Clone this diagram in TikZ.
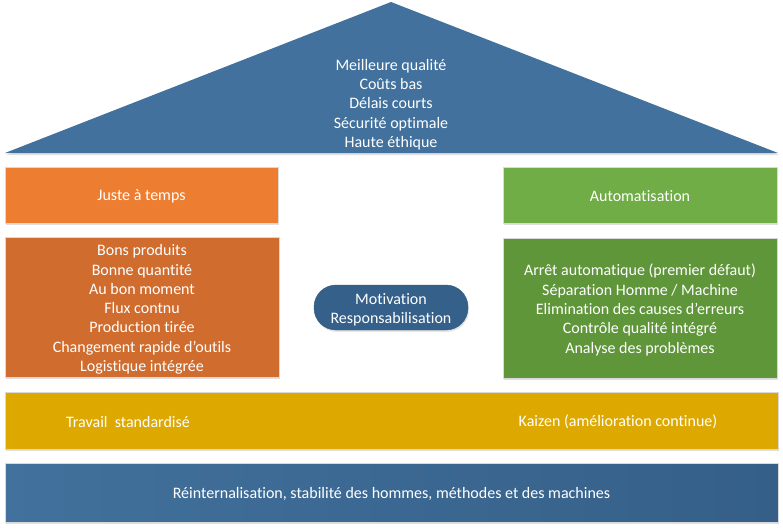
\documentclass[tikz,border=0pt]{standalone}
\usepackage{fontspec}
\setmainfont{Carlito}[Ligatures=NoCommon]
\usetikzlibrary{shadows}
\definecolor{roofblue}{HTML}{41719C}
\definecolor{jitorange}{HTML}{ED7D31}
\definecolor{darkorange}{HTML}{CF6C2E}
\definecolor{autogreen}{HTML}{70AD47}
\definecolor{darkgreen}{HTML}{5F963A}
\definecolor{baryellow}{HTML}{DDA800}
\definecolor{pillblue}{HTML}{35608A}
\definecolor{baseleft}{HTML}{41719C}
\definecolor{baseright}{HTML}{355F88}
\tikzset{
  txt/.style={text=white, align=center, font=\fontsize{16}{19.3}\selectfont, inner sep=0pt},
  blk/.style={inner sep=0pt, minimum width=#1, draw=black!15, line width=0.4pt,
    drop shadow={opacity=0.25, shadow xshift=1pt, shadow yshift=-2pt}},
}
\begin{document}
\begin{tikzpicture}[x=1pt,y=-1pt]
\useasboundingbox (0,0) rectangle (783,528);
% roof
\coordinate (apex) at (391,2);
\coordinate (roofl) at (5,153);
\coordinate (roofr) at (778,153);
\fill[black, opacity=0.12] (roofl) ++(1,2) -- ([shift={(1,2)}]apex) -- ([shift={(1,2)}]roofr) -- cycle;
\fill[roofblue] (roofl) -- (apex) -- (roofr) -- cycle;
\node[txt] (goals) at (391,104.5) {Meilleure qualité\\Coûts bas\\Délais courts\\Sécurité optimale\\Haute éthique};
% pillars
\node[blk=273pt, minimum height=56pt, fill=jitorange] (jit) at (141.5,195) {};
\node[txt] (jittxt) at ([yshift=-1.5pt]jit.center) {Juste à temps};
\node[blk=274pt, minimum height=140pt, fill=darkorange] (jitlist) at (142,307) {};
\node[txt] (jitlisttxt) at ([yshift=-2.5pt]jitlist.center) {Bons produits\\Bonne quantité\\Au bon moment\\Flux contnu\\Production tirée\\Changement rapide d’outils\\Logistique intégrée};
\node[blk=274pt, minimum height=56pt, fill=autogreen] (auto) at (640,195) {};
\node[txt] (autotxt) at ([yshift=-1.5pt]auto.center) {Automatisation};
\node[blk=274pt, minimum height=140pt, fill=darkgreen] (autolist) at (640,308) {};
\node[txt] (autolisttxt) at ([yshift=-2pt]autolist.center) {Arrêt automatique (premier défaut)\\Séparation Homme / Machine\\Elimination des causes d’erreurs\\Contrôle qualité intégré\\Analyse des problèmes};
\node[fill=pillblue, draw=roofblue!80!black, minimum width=154pt, minimum height=45pt, rounded corners=22pt,
  drop shadow={opacity=0.2, shadow xshift=1pt, shadow yshift=-2pt}] (motiv) at (391,307.5) {};
\node[txt] (motivtxt) at ([yshift=-2pt]motiv.center) {Motivation\\Responsabilisation};
% base bars
\node[blk=773pt, minimum height=57pt, fill=baryellow] (std) at (391.5,420.5) {};
\node[txt] (travail) at (128,421.5) {Travail\ \ standardisé};
\node[txt] (kaizen) at (618,421.5) {Kaizen (amélioration continue)};
\node[blk=773pt, minimum height=59pt, left color=baseleft, right color=baseright] (base) at (391.5,492.5) {};
\node[txt] (basetxt) at ([yshift=-1.5pt]base.center) {Réinternalisation, stabilité des hommes, méthodes et des machines};
\end{tikzpicture}
\end{document}
